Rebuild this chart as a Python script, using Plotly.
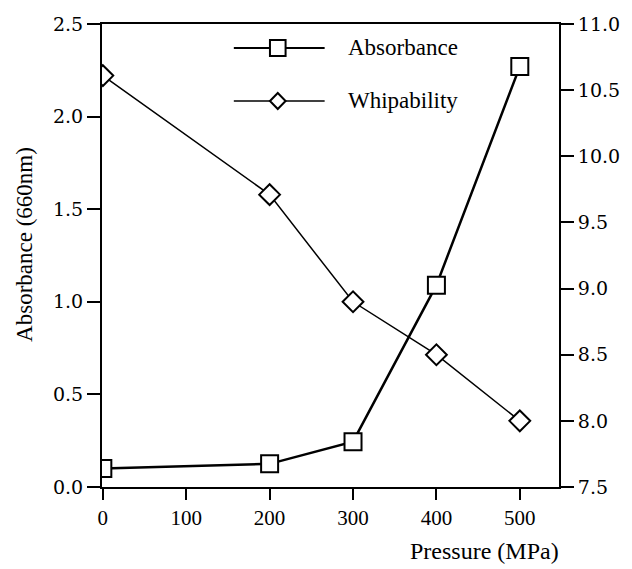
import plotly.graph_objects as go

pressure = [0, 200, 300, 400, 500]
absorbance = [0.10, 0.125, 0.245, 1.09, 2.27]
whipability = [10.61, 9.71, 8.90, 8.50, 8.00]

x_ticks = [0, 100, 200, 300, 400, 500]
left_ticks = [0.0, 0.5, 1.0, 1.5, 2.0, 2.5]
right_ticks = [7.5, 8.0, 8.5, 9.0, 9.5, 10.0, 10.5, 11.0]

FONT = "'Liberation Serif', 'Noto Serif', 'Nimbus Roman', FreeSerif, 'Times New Roman', Times, serif"
TFONT = "'DejaVu Serif', 'Liberation Serif', 'Noto Serif', 'Nimbus Roman', serif"
W, H = 632, 569
L, R, T, B = 102, 570, 24, 487

fig = go.Figure()
fig.add_trace(go.Scatter(
    x=pressure, y=absorbance, name="Absorbance", mode="lines+markers",
    line=dict(color="black", width=2.5),
    marker=dict(symbol="square", size=17, color="white", line=dict(color="black", width=2)),
    showlegend=False, yaxis="y"))
fig.add_trace(go.Scatter(
    x=pressure, y=whipability, name="Whipability", mode="lines+markers",
    line=dict(color="black", width=1.5),
    marker=dict(symbol="diamond", size=16, color="white", line=dict(color="black", width=2)),
    showlegend=False, yaxis="y2"))

def px(xp):
    return (xp - L) / (R - L)

def py(yp):
    return (B - yp) / (B - T)

shapes = []
annotations = []
# manual legend
for label, ypix, sym, lw in [("Absorbance", 48, "square", 2.0), ("Whipability", 101, "diamond", 1.5)]:
    shapes.append(dict(type="line", xref="paper", yref="paper", x0=px(237), x1=px(330),
                       y0=py(ypix), y1=py(ypix), line=dict(color="black", width=lw)))
    cx, cy = 282, ypix
    if sym == "square":
        shapes.append(dict(type="rect", xref="paper", yref="paper",
                           x0=px(cx - 8), x1=px(cx + 8), y0=py(cy + 8), y1=py(cy - 8),
                           fillcolor="white", line=dict(color="black", width=2)))
    else:
        path = "M {},{} L {},{} L {},{} L {},{} Z".format(
            px(cx - 8), py(cy), px(cx), py(cy - 8), px(cx + 8), py(cy), px(cx), py(cy + 8))
        shapes.append(dict(type="path", xref="paper", yref="paper", path=path,
                           fillcolor="white", line=dict(color="black", width=2)))
    annotations.append(dict(text=label, xref="paper", yref="paper", x=px(352), y=py(ypix),
                            xanchor="left", yanchor="middle", showarrow=False,
                            font=dict(family=FONT, size=23, color="black")))

annotations.append(dict(text="Absorbance (660nm)", xref="paper", yref="paper",
                        x=px(22), y=py(244), textangle=-90, xanchor="center", yanchor="middle",
                        showarrow=False, font=dict(family=FONT, size=23, color="black")))
annotations.append(dict(text="Pressure (MPa)", xref="paper", yref="paper",
                        x=px(494), y=py(551), xanchor="center", yanchor="middle",
                        showarrow=False, font=dict(family=FONT, size=24, color="black")))

xtickfont = dict(family=FONT, size=21, color="black")
ytickfont = dict(family=TFONT, size=19, color="black")
fig.update_layout(
    width=W, height=H,
    font=dict(family=FONT, color="black"),
    margin=dict(l=L, r=W - R, t=T, b=H - B, pad=0),
    paper_bgcolor="white", plot_bgcolor="white",
    shapes=shapes, annotations=annotations,
    xaxis=dict(range=[-1, 547], tickvals=x_ticks, ticks="outside", ticklen=11,
               tickwidth=2, tickcolor="black", showline=True, linecolor="black",
               linewidth=1.5, mirror=True, showgrid=False, zeroline=False,
               tickfont=xtickfont),
    yaxis=dict(range=[0, 2.5], tickvals=left_ticks, tickformat=".1f", ticks="outside",
               ticklen=13, tickwidth=1.5, tickcolor="black", showline=True,
               linecolor="black", linewidth=2, showgrid=False, zeroline=False,
               tickfont=ytickfont),
    yaxis2=dict(range=[7.5, 11.0], tickvals=right_ticks, tickformat=".1f",
                ticks="outside", ticklen=13, tickwidth=1.5, tickcolor="black",
                showline=True, linecolor="black", linewidth=2, showgrid=False,
                zeroline=False, overlaying="y", side="right", tickfont=ytickfont),
)

fig.write_html("out.html")
